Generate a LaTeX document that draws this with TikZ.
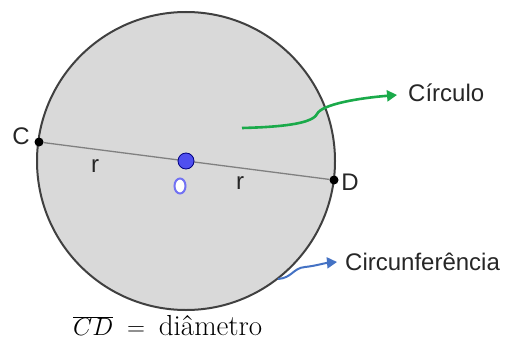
\documentclass[tikz,border=0pt]{standalone}
\usepackage{fontspec}
\newfontfamily\lab{Liberation Sans}
\usetikzlibrary{arrows.meta,shapes.geometric}
\definecolor{fillgray}{HTML}{D9D9D9}
\definecolor{rimgray}{HTML}{404040}
\definecolor{dgreen}{HTML}{1AAA4A}
\definecolor{dblue}{HTML}{4472C4}
\definecolor{ptblue}{HTML}{4F4FF0}
\tikzset{
  lbl/.style={font=\lab\fontsize{24}{28}\selectfont, text=black!85, inner sep=0pt},
  pt/.style={circle, fill=black, inner sep=0pt, minimum size=9pt},
  arr/.style={line width=2.6pt, -{Triangle[length=10pt,width=11pt]}},
}
\begin{document}
\begin{tikzpicture}[x=1pt,y=-1pt]
\useasboundingbox (0,0) rectangle (508,345);
\node[circle, draw=rimgray, line width=2pt, fill=fillgray, minimum size=298pt, inner sep=0pt] (circ) at (186,161) {};
\node[pt] (C) at (39,142) {};
\node[pt] (D) at (334,180) {};
\draw[gray, line width=1.3pt] (C) -- (D);
\node[circle, fill=ptblue, draw=blue!50!black, line width=0.8pt, inner sep=0pt, minimum size=16pt] (O) at (186,161) {};
\node[ellipse, draw=ptblue!80, line width=2pt, fill=white, minimum width=11pt, minimum height=15pt, inner sep=0pt] (Olab) at (180,186) {};
\node[lbl] (Clab) at (21,136) {C};
\node[lbl] (Dlab) at (350,182) {D};
\node[lbl] (r1) at (95,166) {r};
\node[lbl] (r2) at (240,183) {r};
\node[lbl, anchor=west] (circulo) at (408,93) {Círculo};
\node[lbl, anchor=west] (circunf) at (345,262) {Circunferência};
\node[font=\fontsize{29}{33}\selectfont, anchor=west, inner sep=0pt] (diam) at (73,326) {$\overline{CD}\;=\;\mbox{diâmetro}$};
\coordinate (g0) at (242,128);
\coordinate (g1) at (397,95);
\draw[arr, draw=dgreen] (g0) .. controls (280,127) and (312,124) .. (317,114)
  .. controls (322,104) and (360,98) .. (g1);
\coordinate (b0) at (278,279);
\coordinate (b1) at (337,262);
\draw[arr, line width=2pt, draw=dblue] (b0) .. controls (292,278) and (293,268) .. (305,267)
  .. controls (315,266) and (325,263) .. (b1);
\end{tikzpicture}
\end{document}
